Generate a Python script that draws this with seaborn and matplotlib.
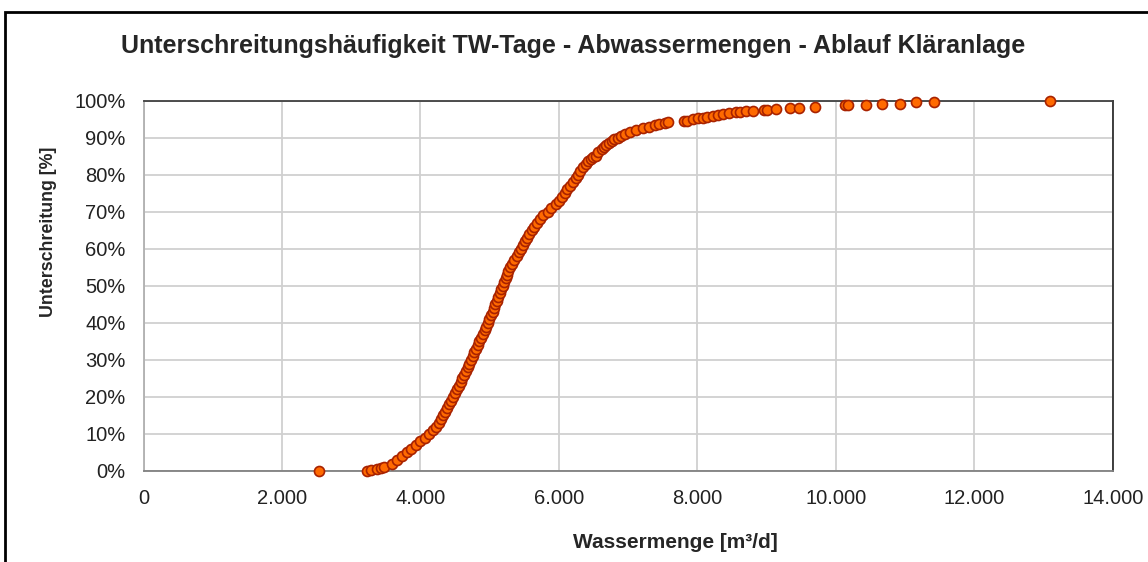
import matplotlib
matplotlib.use("Agg")
import matplotlib.pyplot as plt
import seaborn as sns
import pandas as pd
from matplotlib.patches import Rectangle
from matplotlib.ticker import FuncFormatter, PercentFormatter

# ─── Data ─────────────────────────────────────────────────────────────────────

# Wassermenge [m³/d], sorted, dry-weather days
wassermenge = [
    2534, 3223, 3290, 3370, 3430, 3470, 3590, 3660, 3730, 3800,
    3860, 3930, 3995, 4060, 4120, 4180, 4230, 4260, 4290, 4320,
    4350, 4385, 4410, 4440, 4470, 4500, 4525, 4555, 4580, 4605,
    4630, 4655, 4680, 4705, 4728, 4752, 4775, 4800, 4825, 4850,
    4875, 4900, 4925, 4950, 4975, 4995, 5018, 5040, 5060, 5080,
    5100, 5122, 5145, 5168, 5190, 5210, 5230, 5250, 5268, 5290,
    5320, 5355, 5390, 5420, 5450, 5480, 5510, 5540, 5570, 5605,
    5640, 5680, 5720, 5770, 5840, 5890, 5950, 6000, 6040, 6080,
    6120, 6155, 6200, 6240, 6270, 6300, 6345, 6390, 6425, 6460,
    6495, 6530, 6570, 6620, 6650, 6680, 6720, 6760, 6800, 6850,
    6900, 6960, 7030, 7110, 7210, 7300, 7380, 7450, 7530, 7580,
    7810, 7850, 7940, 8010, 8080, 8140, 8220, 8300, 8370, 8450,
    8560, 8620, 8700, 8800, 8960, 9010, 9140, 9330, 9460, 9700,
    10130, 10180, 10440, 10660, 10920, 11150, 11420, 13090,
]

# Unterschreitung [%] belonging to each value above
unterschreitung = [
    0.0, 0.1, 0.3, 0.5, 0.7, 1.0, 2.0, 3.0, 4.0, 5.0,
    6.0, 7.0, 8.0, 9.0, 10.0, 11.0, 12.0, 13.0, 14.0, 15.0,
    16.0, 17.0, 18.0, 19.0, 20.0, 21.0, 22.0, 23.0, 24.0, 25.0,
    26.0, 27.0, 28.0, 29.0, 30.0, 31.0, 32.0, 33.0, 34.0, 35.0,
    36.0, 37.0, 38.0, 39.0, 40.0, 41.0, 42.0, 43.0, 44.0, 45.0,
    46.0, 47.0, 48.0, 49.0, 50.0, 51.0, 52.0, 53.0, 54.0, 55.0,
    56.0, 57.0, 58.0, 59.0, 60.0, 61.0, 62.0, 63.0, 64.0, 65.0,
    66.0, 67.0, 68.0, 69.0, 70.0, 71.0, 72.0, 73.0, 74.0, 75.0,
    76.0, 77.0, 78.0, 79.0, 80.0, 81.0, 82.0, 83.0, 83.6, 84.2,
    84.8, 85.0, 86.0, 87.0, 87.5, 88.0, 88.5, 89.0, 89.5, 90.0,
    90.5, 91.0, 91.4, 92.0, 92.6, 93.0, 93.4, 93.6, 93.9, 94.1,
    94.4, 94.6, 94.9, 95.2, 95.4, 95.6, 95.9, 96.2, 96.4, 96.6,
    96.9, 97.0, 97.1, 97.2, 97.4, 97.5, 97.8, 97.9, 98.1, 98.4,
    98.7, 98.9, 98.9, 99.2, 99.2, 99.7, 99.7, 100.0,
]

x_ticks = [0, 2000, 4000, 6000, 8000, 10000, 12000, 14000]
y_ticks = [0, 10, 20, 30, 40, 50, 60, 70, 80, 90, 100]

TITLE = "Unterschreitungshäufigkeit TW-Tage - Abwassermengen - Ablauf Kläranlage"
X_LABEL = "Wassermenge [m³/d]"
Y_LABEL = "Unterschreitung [%]"

# ─── Plot ─────────────────────────────────────────────────────────────────────

sns.set_style("white")
plt.rcParams["font.family"] = ["Liberation Sans", "DejaVu Sans"]

df = pd.DataFrame({"Wassermenge": wassermenge, "Unterschreitung": unterschreitung})

fig = plt.figure(figsize=(11.48, 5.62), dpi=100)
ax = fig.add_axes([0.125, 0.162, 0.8445, 0.659])

sns.scatterplot(
    data=df, x="Wassermenge", y="Unterschreitung", ax=ax,
    s=52, color="#FF6A00", edgecolor="#A82200", linewidth=1.2,
    zorder=3, clip_on=False,
)

ax.set_xlim(0, 14000)
ax.set_ylim(0, 100)
ax.set_xticks(x_ticks)
ax.set_yticks(y_ticks)
ax.xaxis.set_major_formatter(FuncFormatter(lambda v, _: f"{int(v):,}".replace(",", ".")))
ax.yaxis.set_major_formatter(PercentFormatter(100, decimals=0))

ax.grid(True, color="#D0D0D0", linewidth=1.3, zorder=0)
ax.set_axisbelow(True)

ax.spines["top"].set_color("#404040")
ax.spines["right"].set_color("#303030")
ax.spines["bottom"].set_color("#808080")
ax.spines["left"].set_color("#B0B0B0")
for sp in ax.spines.values():
    sp.set_linewidth(1.3)
    sp.set_visible(True)

ax.tick_params(axis="both", which="major", direction="out", length=5,
               width=1.1, color="#909090", labelsize=14.5, labelcolor="#222222")
ax.tick_params(axis="x", pad=8)
ax.tick_params(axis="y", pad=8)

ax.set_xlabel(X_LABEL, fontsize=15, fontweight="bold")
ax.set_ylabel(Y_LABEL, fontsize=12.8, fontweight="bold")
ax.xaxis.set_label_coords(0.549, -0.168)
ax.yaxis.set_label_coords(-0.089, 0.647)

fig.text(0.499, 0.918, TITLE, ha="center", va="center",
         fontsize=18, fontweight="bold")

# outer chart frame (only top/left edges fall inside the picture)
fig.patches.append(Rectangle(
    (5 / 1148, -0.1), 1.2, 1.0786, transform=fig.transFigure,
    fill=False, edgecolor="black", linewidth=2, zorder=10,
))

fig.savefig("out.png", dpi=100)
